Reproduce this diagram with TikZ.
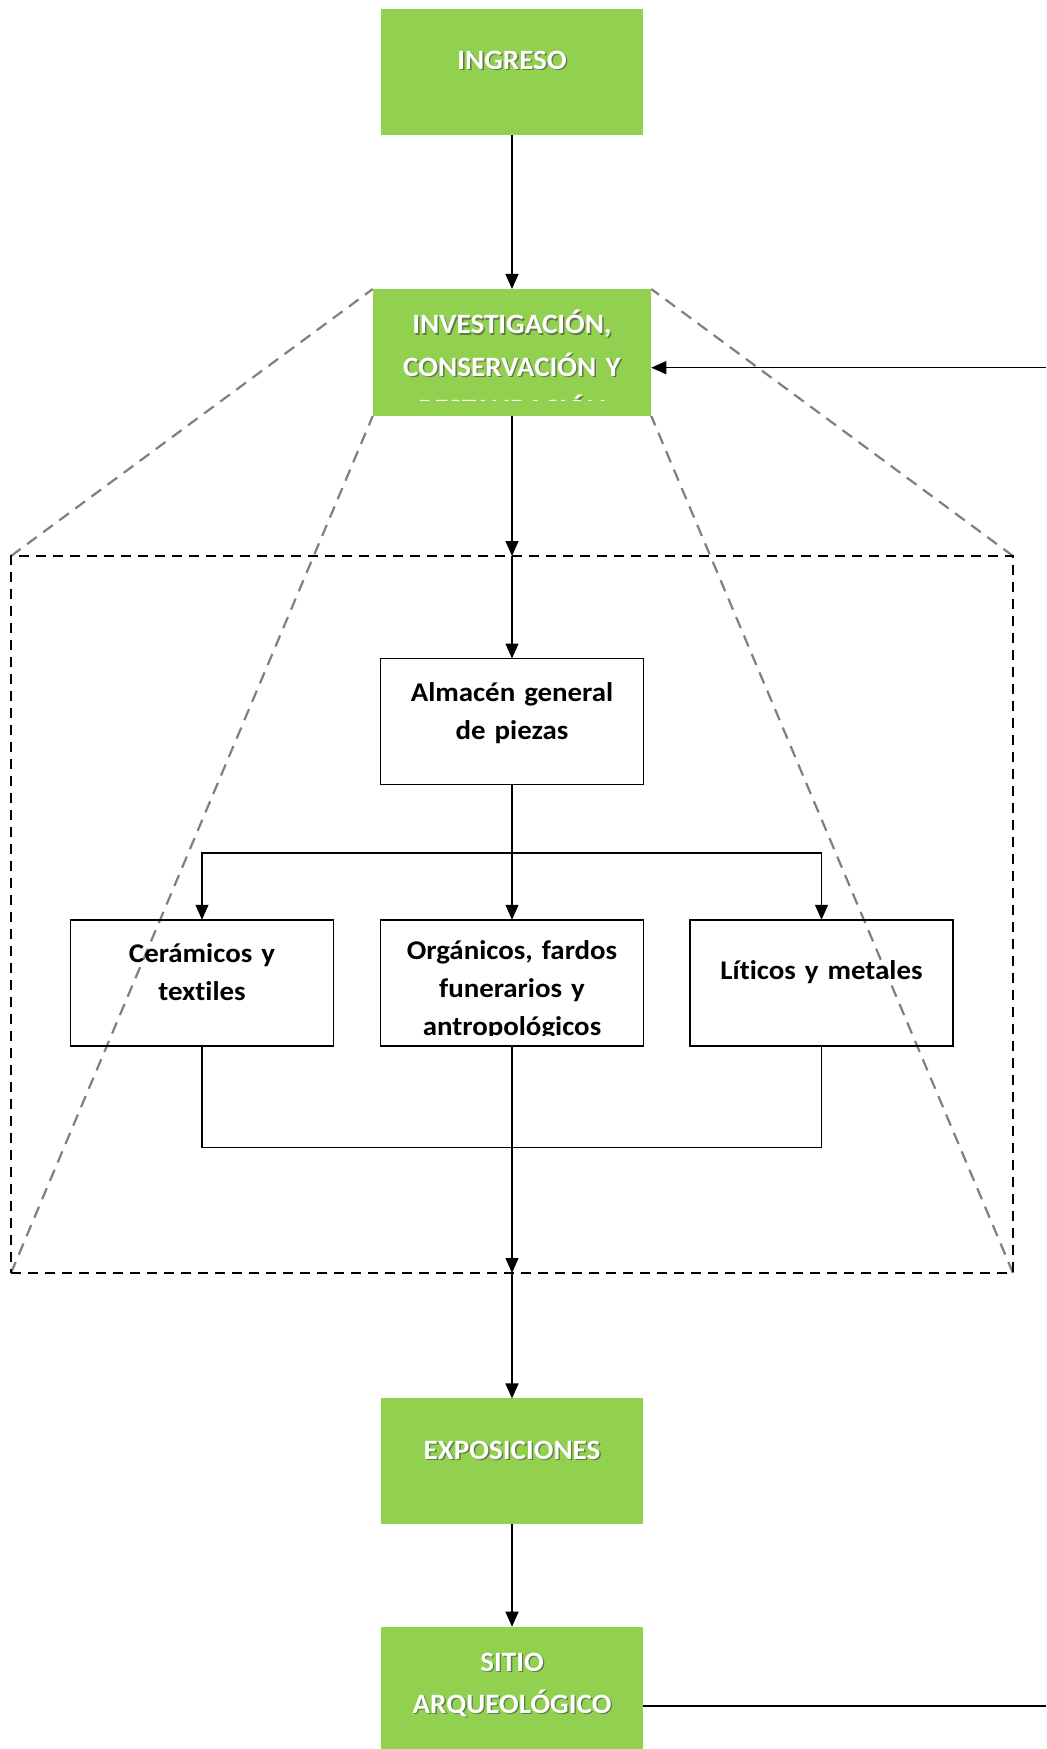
\documentclass[tikz,border=0pt]{standalone}
\usepackage{fontspec}
\newfontfamily\whf[FakeStretch=1.04,Ligatures=NoCommon]{Carlito}
\newfontfamily\blf[FakeStretch=1.07,Ligatures=NoCommon]{Carlito}
\usetikzlibrary{arrows.meta}
\definecolor{boxgreen}{HTML}{92D050}
\definecolor{shadowc}{HTML}{5E7A47}
\definecolor{zoomgray}{HTML}{7F7F7F}
\newcommand\shd[1]{\leavevmode\rlap{\kern0.7pt\raisebox{-0.7pt}{\textcolor{shadowc}{#1}}}\textcolor{white}{#1}}
\pgfdeclarelayer{bg}
\pgfsetlayers{bg,main}
\begin{document}
\begin{tikzpicture}[x=0.5pt,y=-0.5pt,
  greenbox/.style={fill=boxgreen, draw=none, minimum width=131.25pt, minimum height=63pt, inner sep=0pt, outer sep=0pt},
  blackbox/.style={draw=black, line width=0.75pt, fill=none, minimum width=131.5pt, minimum height=63pt, inner sep=0pt, outer sep=0pt},
  wtext/.style={anchor=base, text width=136pt, align=center, inner sep=0pt, font=\whf\bfseries\fontsize{14pt}{21.25pt}\selectfont},
  btext/.style={anchor=base, text width=128pt, align=center, inner sep=0pt, text=black, font=\blf\bfseries\fontsize{13.5pt}{19pt}\selectfont},
  framebox/.style={draw=black, line width=1pt, dash pattern=on 5pt off 3.5pt, minimum width=501pt, minimum height=358.5pt, inner sep=0pt, outer sep=0pt},
  zoomline/.style={draw=zoomgray, line width=1.1pt, dash pattern=on 6pt off 4pt},
  conn/.style={draw=black, line width=0.6pt},
  arr/.style={conn, -{Triangle[length=7.5pt,width=6.5pt]}}
]
\useasboundingbox (0,0) rectangle (1046,1749);

% frame (zoom region)
\node[framebox] (frame) at (512,914.5) {};

% green boxes
\node[greenbox] (ingreso) at (512,72) {};
\node[wtext] (ingresoT) at (512,69.5) {\shd{INGRESO}};

\node[greenbox, minimum width=139.25pt, minimum height=63.5pt] (inv) at (512,352.5) {};
\begin{scope}
  \clip (372,289) rectangle (652,400.5);
  \node[wtext] (invT) at (512,334) {\shd{INVESTIGACIÓN,}\\\shd{CONSERVACIÓN Y}\\\shd{RESTAURACIÓN}};
\end{scope}

\node[greenbox] (expo) at (512,1461.4) {};
\node[wtext] (expoT) at (512,1459) {\shd{EXPOSICIONES}};

\node[greenbox] (sitio) at (512,1689.7) {};
\node[wtext] (sitioT) at (512,1671) {\shd{SITIO}\\\shd{ARQUEOLÓGICO}};

% black boxes
\node[blackbox] (alm) at (512,721.5) {};
\node[btext] (almT) at (512,701) {Almacén general\\de piezas};

\node[blackbox] (c1) at (202,982.75) {};
\node[btext] (c1T) at (202,962) {Cerámicos y\\textiles};

\node[blackbox] (c2) at (512,982.75) {};
\begin{scope}
  \clip (381,920) rectangle (644,1035);
  \node[btext] (c2T) at (512,959.3) {Orgánicos, fardos\\funerarios y\\antropológicos};
\end{scope}

\node[blackbox] (c3) at (821.5,982.75) {};
\node[btext] (c3T) at (821.5,979.5) {Líticos y metales};

% connectors
\coordinate (sp) at (512,853);
\coordinate (mg) at (512,1147.7);
\coordinate (edgeA) at (1046,367.7);
\coordinate (edgeB) at (1046,1706);

\draw[arr] (ingreso.south) -- (inv.north);
\draw[arr] (inv.south) -- (frame.north);
\draw[arr] (frame.north) -- (alm.north);
\draw[conn] (alm.south) -- (sp);
\draw[arr] (sp) -- (c2.north);
\draw[arr] (sp) -| (c1.north);
\draw[arr] (sp) -| (c3.north);
\draw[conn] (c1.south) |- (mg);
\draw[conn] (c3.south) |- (mg);
\draw[arr] (c2.south) -- (frame.south);
\draw[arr] (frame.south) -- (expo.north);
\draw[arr] (expo.south) -- (sitio.north);
\draw[arr] (edgeA) -- (edgeA -| inv.east);
\draw[conn] (edgeB -| sitio.east) -- (edgeB);

% zoom lines
\begin{pgfonlayer}{bg}
  \draw[zoomline] (frame.north west) -- (inv.north west);
  \draw[zoomline] (frame.north east) -- (inv.north east);
  \draw[zoomline] (frame.south west) -- (inv.south west);
  \draw[zoomline] (frame.south east) -- (inv.south east);
\end{pgfonlayer}
\end{tikzpicture}
\end{document}
